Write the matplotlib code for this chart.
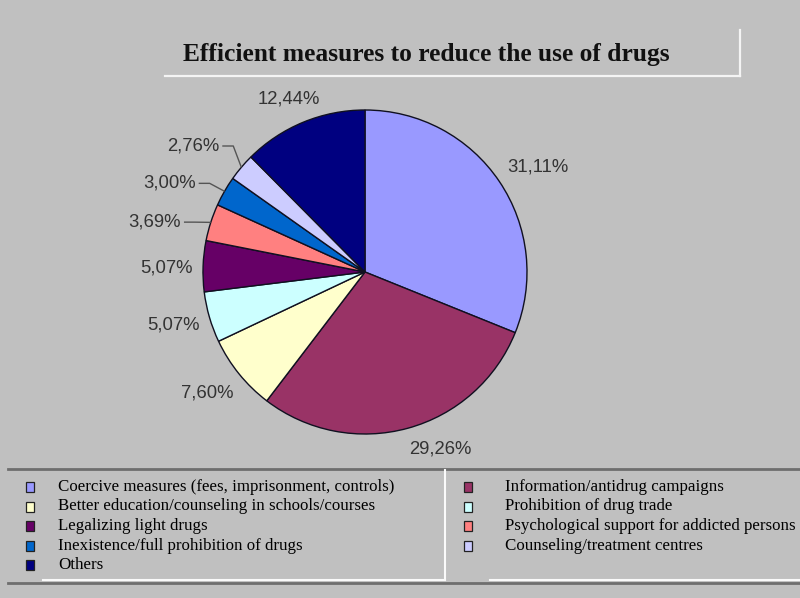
import matplotlib
matplotlib.use("Agg")
import matplotlib.pyplot as plt
from matplotlib.patches import Rectangle
import numpy as np

# ---- data -------------------------------------------------------------
title = "Efficient measures to reduce the use of drugs"
categories = [
    "Coercive measures (fees, imprisonment, controls)",
    "Information/antidrug campaigns",
    "Better education/counseling in schools/courses",
    "Prohibition of drug trade",
    "Legalizing light drugs",
    "Psychological support for addicted persons",
    "Inexistence/full prohibition of drugs",
    "Counseling/treatment centres",
    "Others",
]
shares = [31.11, 29.26, 7.60, 5.07, 5.07, 3.69, 3.00, 2.76, 12.44]
colors = ["#9999FF", "#993366", "#FFFFCC", "#CCFFFF", "#660066",
          "#FF8080", "#0066CC", "#CCCCFF", "#000080"]

# ---- layout -----------------------------------------------------------
W, H = 800, 598
BG = "#C0C0C0"
cx, cy, R = 365, 272, 162            # pie centre / radius in pixels
label_gap = [10, 12, 12, 10, 10, 27, 26, 26, 8]
label_nudge_deg = [-2.8, 7.6, -1.6, -0.6, 0.9, 4.5, 5.5, 4.0, 1.3]

fig = plt.figure(figsize=(W / 100, H / 100), dpi=100, facecolor=BG)
ax = fig.add_axes([0, 0, 1, 1])
ax.set_facecolor(BG)

wedges, _ = ax.pie(shares, colors=colors, startangle=-90, counterclock=True,
                   center=(cx, cy), radius=R, frame=True,
                   wedgeprops=dict(edgecolor="#101020", linewidth=1.0))
ax.set_xlim(0, W)
ax.set_ylim(H, 0)
ax.set_aspect("equal")
ax.axis("off")

# ---- percentage labels -----------------------------------------------
renderer = fig.canvas.get_renderer()
total = float(sum(shares))
cum = 0.0
for i, v in enumerate(shares):
    mid = 90 - 360 * (cum + v / 2) / total          # screen angle, clockwise pie
    cum += v
    txt = f"{v:.2f}%".replace(".", ",")
    t = ax.text(0, 0, txt, ha="center", va="center", fontsize=13.3,
                family="Liberation Sans", color="#333333")
    bb = t.get_window_extent(renderer)
    hw, hh = bb.width / 2, bb.height / 2 * 0.8
    a = np.deg2rad(mid + label_nudge_deg[i])
    ux, uy = np.cos(a), np.sin(a)
    r = R + label_gap[i] + abs(ux) * hw + abs(uy) * hh
    tx, ty = cx + r * ux, cy - r * uy
    t.set_position((tx, ty))
    if v < 4:
        # leader line from label to the slice edge
        am = np.deg2rad(mid)
        ex, ey = cx + R * np.cos(am), cy - R * np.sin(am)
        x0 = tx + hw + 3
        ax.plot([x0, x0 + 11, ex], [ty, ty, ey], color="#555555", lw=1.0,
                solid_capstyle="butt")

# ---- title box -------------------------------------------------------
ax.text(426, 54, title, ha="center", va="center", fontsize=18.4,
        family="Liberation Serif", fontweight="bold", color="#111111")
ax.plot([165, 740], [76, 76], color="#F4F4F4", lw=1.6)
ax.plot([740, 740], [30, 76], color="#F4F4F4", lw=1.6)

# ---- legend ----------------------------------------------------------
ax.plot([8, W], [469, 469], color="#6E6E6E", lw=2.0)
ax.plot([8, W], [583, 583], color="#6E6E6E", lw=2.0)
ax.plot([43, 445], [580, 580], color="#FAFAFA", lw=1.5)
ax.plot([490, W], [580, 580], color="#FAFAFA", lw=1.5)
ax.plot([445, 445], [470, 580], color="#FAFAFA", lw=1.5)

row_y0, row_dy = 487, 19.5
col_marker_x = [30, 468]
col_text_x = [58, 505]
for i, (name, col) in enumerate(zip(categories, colors)):
    c, row = i % 2, i // 2
    y = row_y0 + row * row_dy
    ax.add_patch(Rectangle((col_marker_x[c] - 4, y - 5), 8, 10,
                           facecolor=col, edgecolor="#222222", lw=0.9))
    ax.text(col_text_x[c], y, name, ha="left", va="center", fontsize=12.2,
            family="Liberation Serif", color="#000000")

fig.savefig("out.png", dpi=100, facecolor=BG)
